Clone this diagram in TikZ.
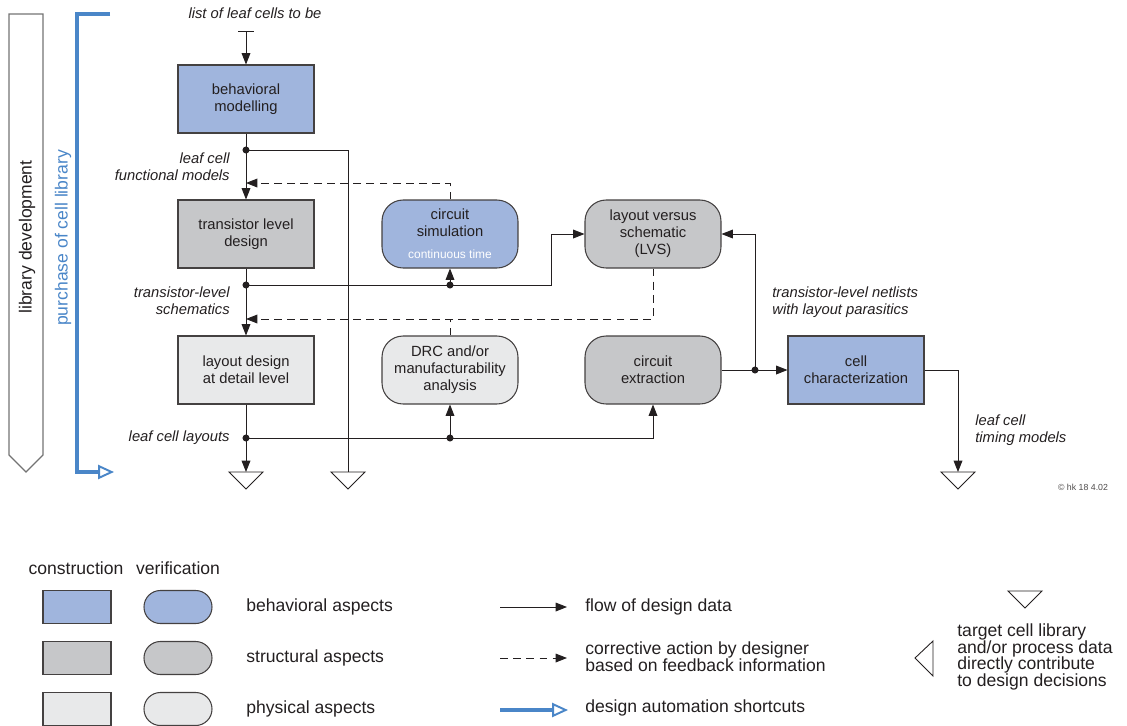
\documentclass[tikz,border=0pt]{standalone}
\usepackage{fontspec}
\setmainfont{Liberation Sans}
\usetikzlibrary{arrows.meta,calc}

\definecolor{ink}{HTML}{231F20}
\definecolor{behavfill}{HTML}{A0B5DD}
\definecolor{strucfill}{HTML}{C6C7C9}
\definecolor{physfill}{HTML}{E8E9EA}
\definecolor{autoblue}{HTML}{4A86C8}

\tikzset{
  sink/.pic={\draw[ink,line width=0.5pt] (-17,0) -- (17,0) -- (0,17) -- cycle;},
  boxtext/.style={font=\fontsize{8.4}{9.7}\selectfont, text=ink, align=center},
  italabel/.style={font=\fontsize{8.4}{9.6}\selectfont\itshape, text=ink, inner sep=0pt},
  legtext/.style={font=\fontsize{10}{9.5}\selectfont, text=ink, inner sep=0pt, align=left}
}

\begin{document}
\begin{tikzpicture}[x=0.02cm, y=-0.02cm,
        cons/.style={boxtext, draw=ink!85, line width=0.6pt,
          minimum width=2.72cm, minimum height=1.36cm},
        veri/.style={cons, rounded corners=12pt},
        behav/.style={fill=behavfill},
        struc/.style={fill=strucfill},
        phys/.style={fill=physfill},
        flow/.style={draw=ink, line width=0.5pt, -{Triangle[length=6.5pt,width=5pt]}},
        feedback/.style={flow, dash pattern=on 4.5pt off 3pt},
        shortcut/.style={draw=autoblue, line width=1.8pt, -{Triangle[open,length=9pt,width=8pt,line width=1.1pt]}}]
  \useasboundingbox (0,0) rectangle (1127,725);

  % side bars
  \draw[black!55, line width=0.7pt] (9,14) -- (43,14) -- (43,455) -- (26,472) -- (9,455) -- cycle;
  \node[rotate=90, font=\fontsize{10}{12}\selectfont, text=ink] (libdev) at (27,237) {library development};
  \coordinate (p1) at (110,14);
  \coordinate (p2) at (114,472);
  \draw[shortcut] (p1) -- (77,14) -- (77,472) -- (p2);
  \node[rotate=90, font=\fontsize{10}{12}\selectfont, text=autoblue] (purch) at (63,238) {purchase of cell library};

  % blocks
  \node[cons, behav] (bm) at (246,99) {behavioral\\modelling};
  \node[cons, struc] (tld) at (246,234) {transistor level\\design};
  \node[cons, phys] (ldd) at (246,370) {layout design\\at detail level};
  \node[veri, behav] (sim) at (450,234) {circuit\\simulation\\[3pt]{\fontsize{6.8}{8}\selectfont\color{white}continuous time}};
  \node[veri, struc] (lvs) at (653,234) {layout versus\\schematic\\(LVS)};
  \node[veri, phys] (drc) at (450,370) {DRC and/or\\manufacturability\\analysis};
  \node[veri, struc] (ext) at (653,370) {circuit\\extraction};
  \node[cons, behav] (char) at (856,370) {cell\\characterization};

  % libraries
  \coordinate (s1) at (246,472);
  \coordinate (s2) at (348,472);
  \coordinate (s3) at (958,472);
  \foreach \s in {s1,s2,s3} \pic at (\s) {sink};

  % junctions
  \coordinate (in) at (246,31);
  \coordinate (d1) at (246,150);
  \coordinate (d2) at (246,285);
  \coordinate (d3) at (450,285);
  \coordinate (b1) at (551,285);
  \coordinate (d4) at (246,438);
  \coordinate (d5) at (450,438);
  \coordinate (d6) at (755,370);
  \coordinate (f1) at (246,183);
  \coordinate (f2) at (246,319);

  % labels
  \node[italabel] (lin) at (255,13) {list of leaf cells to be};
  \node[italabel, anchor=east, align=right] (lfm) at (230,167) {leaf cell\\functional models};
  \node[italabel, anchor=east, align=right] (lts) at (230,301) {transistor-level\\schematics};
  \node[italabel, anchor=east] (llay) at (230,438) {leaf cell layouts};
  \node[italabel, anchor=west, align=left] (lnet) at (772,302) {transistor-level netlists\\with layout parasitics};
  \node[italabel, anchor=west, align=left] (ltim) at (975,430) {leaf cell\\timing models};
  \node[font=\fontsize{5}{6}\selectfont, text=ink!80] (copy) at (1083,487) {\textcopyright{} hk 18 4.02};

  % flow of design data
  \draw[flow, {Bar[width=9pt]}-{Triangle[length=6.5pt,width=5pt]}] (in) -- (bm);
  \draw[flow] (bm) -- (tld);
  \draw[draw=ink, line width=0.5pt] (d1) -| (s2);
  \draw[flow] (tld) -- (ldd);
  \draw[flow] (d2) -- (b1) |- (lvs);
  \draw[flow] (d3) -- (sim);
  \draw[flow] (ldd) -- (s1);
  \draw[flow] (d4) -| (ext);
  \draw[flow] (d5) -- (drc);
  \draw[flow] (ext) -- (char);
  \draw[flow] (d6) |- (lvs);
  \draw[flow] (char) -| (s3);
  \foreach \d in {d1,d2,d3,d4,d5,d6} \fill[ink] (\d) circle (2pt);

  % feedback
  \draw[feedback] (sim) |- (f1);
  \draw[feedback] (lvs) |- (f2);
  \draw[draw=ink, line width=0.5pt, dash pattern=on 4.5pt off 3pt] (drc.north) -- (drc.north |- f2);

  % legend
  \node[legtext] (lcons) at (76,568) {construction};
  \node[legtext] (lveri) at (178,568) {verification};
  \node[cons, behav, minimum width=1.36cm, minimum height=0.66cm] (kb1) at (77,607) {};
  \node[cons, struc, minimum width=1.36cm, minimum height=0.66cm] (kb2) at (77,658) {};
  \node[cons, phys, minimum width=1.36cm, minimum height=0.66cm] (kb3) at (77,709) {};
  \node[veri, behav, minimum width=1.36cm, minimum height=0.66cm, rounded corners=9.3pt] (kv1) at (178,607) {};
  \node[veri, struc, minimum width=1.36cm, minimum height=0.66cm, rounded corners=9.3pt] (kv2) at (178,658) {};
  \node[veri, phys, minimum width=1.36cm, minimum height=0.66cm, rounded corners=9.3pt] (kv3) at (178,709) {};
  \node[legtext, anchor=west] (tb) at (246,607) {behavioral aspects};
  \node[legtext, anchor=west] (ts) at (246,658) {structural aspects};
  \node[legtext, anchor=west] (tp) at (246,709) {physical aspects};

  \coordinate (a1) at (500,607);
  \coordinate (a2) at (567,607);
  \coordinate (a3) at (500,658);
  \coordinate (a4) at (567,658);
  \coordinate (a5) at (500,710);
  \coordinate (a6) at (568,710);
  \draw[flow] (a1) -- (a2);
  \draw[feedback] (a3) -- (a4);
  \draw[shortcut] (a5) -- (a6);
  \node[legtext, anchor=west] (tflow) at (585,607) {flow of design data};
  \node[legtext, anchor=west] (tfb) at (585,657) {corrective action by designer\\based on feedback information};
  \node[legtext, anchor=west] (tauto) at (585,708) {design automation shortcuts};

  \pic at (1025,591) {sink};
  \draw[ink, line width=0.5pt] (915,658) -- (933,641) -- (933,676) -- cycle;
  \node[legtext, anchor=west] (tlib) at (957,657) {target cell library\\and/or process data\\directly contribute\\to design decisions};
\end{tikzpicture}
\end{document}
